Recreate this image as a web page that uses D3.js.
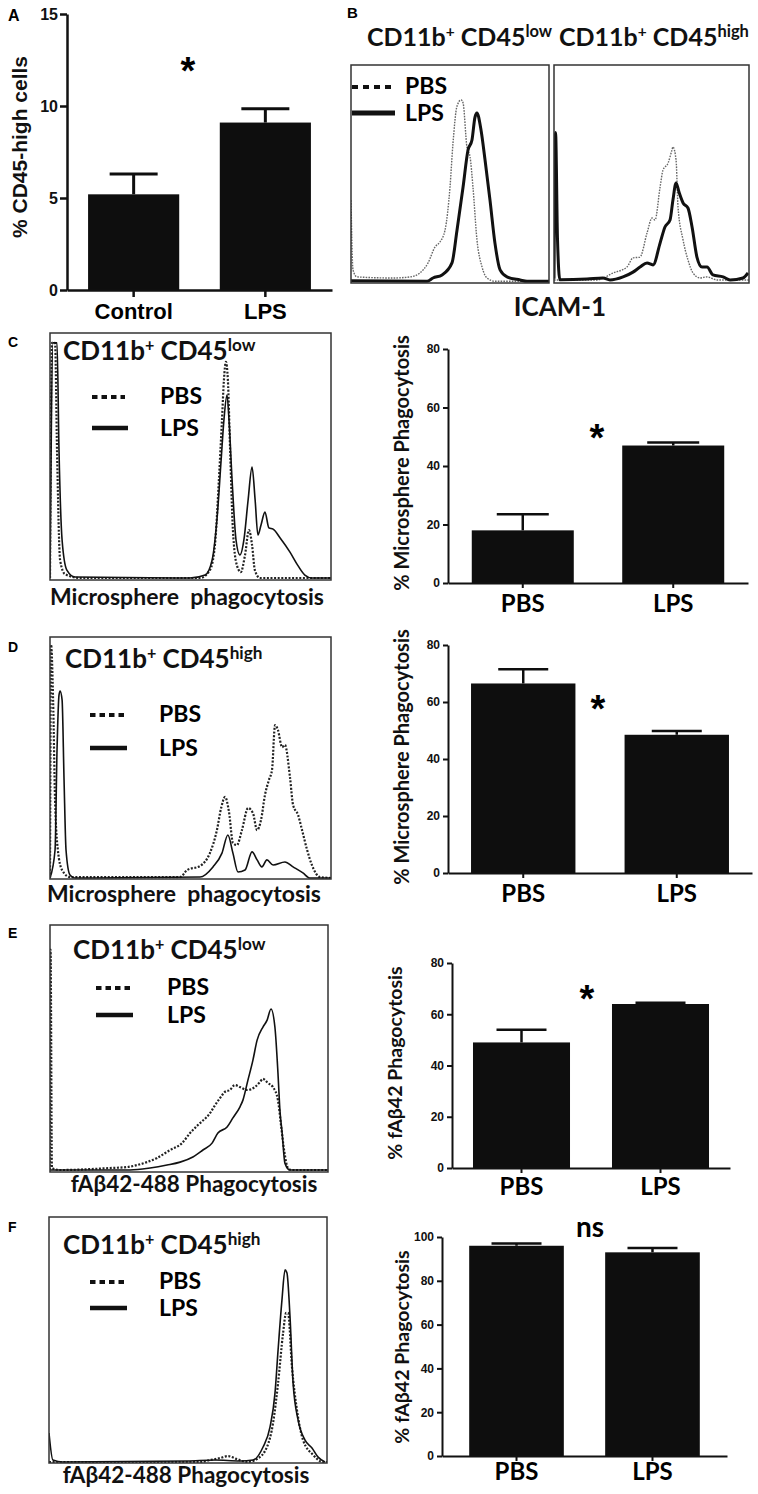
<!DOCTYPE html>
<html>
<head>
<meta charset="utf-8">
<script src="https://cdn.jsdelivr.net/npm/d3@7"></script>
<style>
  body { margin: 0; background: #fff; }
  svg { display: block; }
</style>
</head>
<body>
<script>
// ---- bar chart data ----
const groupsA = ["Control", "LPS"];
const meanA = [5.2, 9.1];
const errA = [6.3, 9.85];
const ticksA = [0, 5, 10, 15];

const groups = ["PBS", "LPS"];
const meanC = [18, 47],   errC = [23.5, 48];
const meanD = [66.5, 48.5], errD = [71.5, 49.8];
const meanE = [49, 64],   errE = [54, 64.5];
const meanF = [96, 93],   errF = [97, 95];
const ticks80 = [0, 20, 40, 60, 80];
const ticks100 = [0, 20, 40, 60, 80, 100];

// ---- histogram data: [fluorescence, % of max events] ----
const icamLowPBS = [[0,38],[1,6],[3,2.8],[21,2.3],[30,2.8],[34.8,4.6],[38.9,9.2],[42.4,16.5],[44.9,18.8],[47.5,24.3],[50,44],[51.5,64],[53.5,81],[55.6,84],[56.6,82.6],[58.6,62],[60.1,58],[61.6,44],[63.6,20],[66.2,7.3],[68.7,2.3],[72.7,0.8],[100,0.8]];
const icamLowLPS = [[0,1],[38.4,0.8],[41.4,2.3],[46,3.7],[51,9.2],[53.5,24],[56.6,44],[59.1,61],[61.1,65.6],[62.6,76],[63.6,78],[65.7,70],[67.7,56.4],[70.2,38],[72.7,18.3],[75.3,6],[78.8,2.8],[85.4,1.4],[88.9,0.8],[100,0.8]];
const icamHighPBS = [[0,1.4],[22.1,1.4],[30.3,4.6],[37.4,7.3],[40.5,11.5],[44.1,11.9],[47.7,22.9],[50.3,29.8],[51.8,28.9],[54.4,44],[55.9,51.8],[58.5,55],[60.5,61],[61,62.4],[62.6,56.4],[63.6,34.9],[66.2,19.7],[68.7,10.6],[71.3,4.6],[74.9,2.3],[78.5,2.8],[83.6,1.4],[100,1.4]];
const icamHighLPS = [[0,2],[0.8,69],[1.8,20],[3,1.5],[16.9,1.8],[25.1,2.3],[28.7,1.4],[35.4,2.8],[40.5,5],[44.1,7.3],[47.7,9.2],[50.8,8.3],[54.4,18.3],[56.9,25.7],[59.5,28.9],[61,38.1],[62.6,45.9],[64.1,41.7],[66.2,36.7],[68.7,34.4],[70.8,25.7],[73.3,11.9],[75.9,7.3],[78.5,7.3],[81.5,3.7],[86.7,2.8],[90.3,1.4],[96.9,2.3],[99.5,4.6]];

const microLowPBS = [[0,0.8],[0.7,96],[1.8,96],[2.5,52.6],[3.6,8],[5.3,2.4],[10.7,0.8],[53.4,0.8],[56.9,4],[58.7,14.2],[60.1,40.5],[61.2,64.8],[61.9,81],[62.6,88.3],[63.3,81],[64.1,52.6],[65.1,20.2],[66.5,6],[67.9,3.2],[69.4,10.1],[70.8,20.2],[71.9,14.2],[72.9,4],[74.7,0.8],[100,0.8]];
const microLowLPS = [[0,0.8],[1.1,96],[2.5,96],[3.2,52.6],[4.3,16.2],[6,4],[8.9,1.2],[49.8,0.8],[55.2,2],[57.7,8.1],[59.4,24.3],[60.9,48.6],[61.9,64.8],[63,74.9],[63.7,64.8],[64.8,40.5],[66.2,16.2],[67.6,10.1],[69,16.2],[70.5,32.4],[71.9,45.7],[73,32.4],[74,18.2],[75.1,22.3],[76.5,27.5],[77.9,21.1],[79.4,20.6],[81.9,17],[85.4,11.3],[88.3,5.7],[90.7,2],[93.2,0.8],[100,0.8]];
const microHighPBS = [[0,0.4],[0.4,96.7],[1.1,74],[1.8,32.6],[2.8,12],[4.3,3.7],[7.1,0.8],[46.3,0.8],[48.8,3.7],[53.4,5.4],[56.9,10.7],[59.4,20.2],[60.9,29.3],[62.3,33.9],[63.7,27.7],[65.1,14.9],[66.5,14],[68.3,20.2],[70.5,29.3],[72.2,27.3],[73.7,20.2],[75.1,24.4],[76.5,34.7],[77.9,40.9],[79,45],[80.1,63.6],[81.1,61.6],[82.6,54.5],[83.6,55.4],[85.4,42.1],[86.5,30.6],[88.3,26.4],[89.7,20.2],[91.5,12],[93.2,5.8],[96.1,0.8],[100,0.4]];
const microHighLPS = [[0,0.4],[1.8,12],[2.5,53.3],[3.2,76],[3.6,77.7],[4.3,74],[5,40.9],[5.7,12],[7.1,1.7],[8.9,0.4],[53.4,0.8],[58,5],[61.2,10.7],[63.3,18.2],[65.1,10.7],[66.9,2.9],[69.4,3.7],[71.9,11.2],[73.7,7.9],[75.4,5],[77.2,7.9],[79.4,5.8],[83.6,7],[86.5,5],[90,2.5],[92.5,0.4],[100,0.4]];

const abLowPBS = [[0,0.8],[0.2,90],[0.7,1.6],[3.6,0.8],[21.6,1.6],[27.7,2],[31.3,2.8],[34.9,4],[38.5,5.7],[43.2,8.9],[47.5,11.7],[50.4,15.8],[53.2,19],[57.6,23.9],[59.4,27.1],[61.2,30],[62.9,32.4],[64.7,33.2],[66.5,35.2],[68.3,34.4],[70.9,33.2],[73.7,34.4],[75.5,36.4],[76.6,37.7],[78.4,36],[80.2,34.4],[82,29.1],[83.1,19],[84.2,8.9],[85.6,1.6],[87,0.8],[100,0.8]];
const abLowLPS = [[0,0.8],[28.8,0.8],[36,1.6],[42.1,2.8],[46.8,4],[51.4,6.1],[55,8.9],[58.3,11.7],[60.4,15.8],[63.7,18.2],[65.8,21.9],[68.3,26.3],[69.4,29.1],[71.2,37.2],[73,45.3],[74.5,53.4],[76.6,58.7],[78.1,61.5],[79.5,66],[80.9,58.7],[82,40.1],[82.7,25.1],[83.5,15.8],[84.5,3.6],[86.3,0.8],[100,0.8]];
const abHighPBS = [[0,0.4],[54.3,0.4],[57.9,1.2],[61.5,2],[64.4,2.8],[67.6,1.6],[71.2,0.4],[74.8,1.6],[78.4,6.5],[80.6,16.3],[82.4,32.5],[84.2,52.8],[85.3,61],[86,61],[87.4,39],[89.2,21.5],[91.4,9.3],[95,3.3],[98.6,0.4],[100,0.4]];
const abHighLPS = [[0,12.2],[1.4,1.2],[5,0.4],[49.6,0.8],[59.7,1.2],[68.7,0.8],[73.4,1.2],[77,6.5],[79.5,14.6],[81.3,28.5],[82.4,45.9],[83.8,66.3],[84.9,78.5],[85.6,77.2],[86.7,59.3],[87.8,32.5],[89.6,17.5],[92.1,9.3],[94.6,6.1],[96.8,2.4],[99.3,0.4]];

const ARIAL = '"Liberation Sans", Arial, sans-serif';
const CALI = 'Lato, "Open Sans", sans-serif';

const svg = d3.select("body").append("svg")
  .attr("width", 758).attr("height", 1494);

// ---------- bar charts ----------
function barPanel(o) {
  const g = svg.append("g");
  const y = d3.scaleLinear().domain([0, o.max]).range([o.bottom, o.top]);
  const x = d3.scaleBand().domain(o.cats).range([o.left, o.right])
    .paddingInner(o.pi).paddingOuter(o.po);

  g.selectAll("rect.bar").data(o.means).enter().append("rect")
    .attr("x", (d, i) => x(o.cats[i]))
    .attr("width", x.bandwidth())
    .attr("y", d => y(d))
    .attr("height", d => o.bottom - y(d))
    .attr("fill", "#0e0e0e");

  const err = g.selectAll("g.err").data(o.errs).enter().append("g")
    .attr("stroke", "#0e0e0e").attr("stroke-width", o.errW);
  err.append("line")
    .attr("x1", (d, i) => x(o.cats[i]) + x.bandwidth() / 2)
    .attr("x2", (d, i) => x(o.cats[i]) + x.bandwidth() / 2)
    .attr("y1", (d, i) => y(o.means[i]))
    .attr("y2", d => y(d));
  err.append("line")
    .attr("x1", (d, i) => x(o.cats[i]) + x.bandwidth() / 2 - o.cap)
    .attr("x2", (d, i) => x(o.cats[i]) + x.bandwidth() / 2 + o.cap)
    .attr("y1", d => y(d)).attr("y2", d => y(d));

  const ya = g.append("g").attr("transform", `translate(${o.left},0)`)
    .call(d3.axisLeft(y).tickValues(o.ticks).tickSize(o.tick).tickSizeOuter(0).tickPadding(o.tpad));
  ya.selectAll("text").attr("font-family", ARIAL).attr("font-weight", "bold")
    .attr("font-size", o.tfs).attr("fill", "#111");

  const xa = g.append("g").attr("transform", `translate(0,${o.bottom})`)
    .call(d3.axisBottom(x).tickSize(o.tick).tickSizeOuter(0).tickPadding(o.cpad));
  xa.selectAll("text").attr("font-family", o.cfont).attr("font-weight", "bold")
    .attr("font-size", o.cfs).attr("fill", "#000");

  [ya, xa].forEach(a => {
    a.select(".domain").attr("stroke", "#111").attr("stroke-width", o.axW);
    a.selectAll(".tick line").attr("stroke", "#111").attr("stroke-width", o.axW);
  });

  g.append("text")
    .attr("transform", `translate(${o.labX},${o.labY}) rotate(-90)`)
    .attr("text-anchor", "middle")
    .attr("font-family", o.labFont).attr("font-weight", "bold")
    .attr("font-size", o.labFs).attr("fill", "#111")
    .text(o.label);

  if (o.star) {
    g.append("text").attr("x", o.star[0]).attr("y", o.star[1] + 22)
      .attr("text-anchor", "middle").attr("font-family", ARIAL)
      .attr("font-weight", "bold").attr("font-size", 38).text("*");
  }
}

barPanel({ cats: groupsA, means: meanA, errs: errA, ticks: ticksA, max: 15,
  left: 67, right: 332, top: 14, bottom: 290, pi: 0.308, po: 0.16,
  tick: 7, tpad: 2, tfs: 16, axW: 2.5, errW: 3, cap: 24,
  cfont: ARIAL, cfs: 22, cpad: 6,
  label: "% CD45-high cells", labX: 27, labY: 147, labFont: ARIAL, labFs: 21,
  star: [188, 62] });

barPanel({ cats: groups, means: meanC, errs: errC, ticks: ticks80, max: 80,
  left: 448, right: 748, top: 349, bottom: 583, pi: 0.322, po: 0.158,
  tick: 5, tpad: 3, tfs: 12, axW: 2, errW: 2.5, cap: 26,
  cfont: CALI, cfs: 24, cpad: 7,
  label: "% Microsphere Phagocytosis", labX: 409, labY: 463, labFont: CALI, labFs: 20,
  star: [597, 429] });

barPanel({ cats: groups, means: meanD, errs: errD, ticks: ticks80, max: 80,
  left: 448, right: 752, top: 645, bottom: 873, pi: 0.32, po: 0.15,
  tick: 5, tpad: 3, tfs: 12, axW: 2, errW: 2.5, cap: 25,
  cfont: CALI, cfs: 24, cpad: 7,
  label: "% Microsphere Phagocytosis", labX: 409, labY: 757, labFont: CALI, labFs: 20,
  star: [598, 700] });

barPanel({ cats: groups, means: meanE, errs: errE, ticks: ticks80, max: 80,
  left: 452, right: 730, top: 963, bottom: 1168, pi: 0.302, po: 0.151,
  tick: 5, tpad: 3, tfs: 12, axW: 2, errW: 2.5, cap: 25,
  cfont: CALI, cfs: 24, cpad: 5,
  label: "% fA\u03b242 Phagocytosis", labX: 402, labY: 1063, labFont: CALI, labFs: 19.5,
  star: [587, 990] });

barPanel({ cats: groups, means: meanF, errs: errF, ticks: ticks100, max: 100,
  left: 442, right: 727, top: 1237, bottom: 1456, pi: 0.304, po: 0.2,
  tick: 5, tpad: 3, tfs: 12, axW: 2, errW: 2.5, cap: 25,
  cfont: CALI, cfs: 24, cpad: 2,
  label: "% fA\u03b242 Phagocytosis", labX: 409, labY: 1347, labFont: CALI, labFs: 19.5,
  star: null });

svg.append("text").attr("x", 590).attr("y", 1237).attr("text-anchor", "middle")
  .attr("font-family", CALI).attr("font-weight", "bold").attr("font-size", 28).text("ns");

// ---------- histograms ----------
function histPanel(o) {
  const g = svg.append("g");
  const x = d3.scaleLinear().domain([0, 100]).range([o.left, o.right]);
  const y = d3.scaleLinear().domain([0, 100]).range([o.bottom, o.top]);
  const line = d3.line().x(d => x(d[0])).y(d => y(d[1])).curve(d3.curveMonotoneX);
  const id = "clip" + o.id;
  g.append("clipPath").attr("id", id).append("rect")
    .attr("x", o.left).attr("y", o.top)
    .attr("width", o.right - o.left).attr("height", o.bottom - o.top);
  const c = g.append("g").attr("clip-path", `url(#${id})`).attr("fill", "none");
  c.append("path").datum(o.pbs).attr("d", line)
    .attr("stroke", o.dotColor).attr("stroke-width", o.dotW)
    .attr("stroke-dasharray", o.dash);
  c.append("path").datum(o.lps).attr("d", line)
    .attr("stroke", "#111").attr("stroke-width", o.solidW);
  g.append("rect").attr("x", o.left).attr("y", o.top)
    .attr("width", o.right - o.left).attr("height", o.bottom - o.top)
    .attr("fill", "none").attr("stroke", "#333").attr("stroke-width", 1.5);
}

function cdTitle(x, y, level, fs) {
  const t = svg.append("text").attr("x", x).attr("y", y)
    .attr("font-family", CALI).attr("font-weight", "bold")
    .attr("font-size", fs).attr("fill", "#111");
  t.append("tspan").text("CD11b");
  t.append("tspan").text("+").attr("font-size", fs * 0.62).attr("dy", -fs * 0.36);
  t.append("tspan").text(" CD45").attr("font-size", fs).attr("dy", fs * 0.36);
  t.append("tspan").text(level).attr("font-size", fs * 0.66).attr("dy", -fs * 0.36);
}

function legend(x0, x1, tx, yDot, yLine, fs, dotW, lineW, dash) {
  svg.append("line").attr("x1", x0).attr("x2", x1).attr("y1", yDot).attr("y2", yDot)
    .attr("stroke", "#111").attr("stroke-width", dotW).attr("stroke-dasharray", dash);
  svg.append("line").attr("x1", x0).attr("x2", x1 + 3).attr("y1", yLine).attr("y2", yLine)
    .attr("stroke", "#111").attr("stroke-width", lineW);
  svg.append("text").attr("x", tx).attr("y", yDot + 7).attr("font-family", CALI)
    .attr("font-weight", "bold").attr("font-size", fs).text("PBS");
  svg.append("text").attr("x", tx).attr("y", yLine + 8).attr("font-family", CALI)
    .attr("font-weight", "bold").attr("font-size", fs).text("LPS");
}

function axisText(x, y, txt, fs) {
  svg.append("text").attr("x", x).attr("y", y).attr("text-anchor", "middle")
    .attr("font-family", CALI).attr("font-weight", "bold").attr("font-size", fs)
    .attr("fill", "#111").style("white-space", "pre").text(txt);
}

// B
histPanel({ id: "b1", left: 351, right: 549, top: 65, bottom: 283,
  pbs: icamLowPBS, lps: icamLowLPS, dotColor: "#666", dotW: 1.4, dash: "1.6,1.2", solidW: 3 });
histPanel({ id: "b2", left: 554, right: 749, top: 65, bottom: 283,
  pbs: icamHighPBS, lps: icamHighLPS, dotColor: "#666", dotW: 1.4, dash: "1.6,1.2", solidW: 3 });
cdTitle(367, 46, "low", 25);
cdTitle(559, 46, "high", 25);
legend(352, 392, 405, 87, 113, 23, 4, 5, "6,5");
axisText(560, 316, "ICAM-1", 26);

// C
histPanel({ id: "c", left: 50, right: 331, top: 333, bottom: 580,
  pbs: microLowPBS, lps: microLowLPS, dotColor: "#222", dotW: 2.2, dash: "2,1.6", solidW: 1.6 });
cdTitle(63, 360, "low", 26);
legend(92, 125, 160, 397, 428, 23, 4, 4.5, "5.5,4");
axisText(187, 605, "Microsphere  phagocytosis", 23);

// D
histPanel({ id: "d", left: 50, right: 331, top: 637, bottom: 879,
  pbs: microHighPBS, lps: microHighLPS, dotColor: "#222", dotW: 2.2, dash: "2,1.6", solidW: 1.6 });
cdTitle(65, 668, "high", 26);
legend(90, 124, 159, 715, 748, 23, 4, 4.5, "5.5,4");
axisText(184, 902, "Microsphere  phagocytosis", 23);

// E
histPanel({ id: "e", left: 50, right: 328, top: 925, bottom: 1172,
  pbs: abLowPBS, lps: abLowLPS, dotColor: "#222", dotW: 2.2, dash: "2,1.6", solidW: 1.6 });
cdTitle(73, 959, "low", 26);
legend(96, 130, 167, 988, 1015, 23, 4, 4.5, "5.5,4");
axisText(194, 1192, "fA\u03b242-488 Phagocytosis", 22.5);

// F
histPanel({ id: "f", left: 49, right: 327, top: 1217, bottom: 1463,
  pbs: abHighPBS, lps: abHighLPS, dotColor: "#222", dotW: 2.2, dash: "2,1.6", solidW: 1.6 });
cdTitle(63, 1254, "high", 26);
legend(90, 124, 159, 1282, 1308, 23, 4, 4.5, "5.5,4");
axisText(186, 1483, "fA\u03b242-488 Phagocytosis", 22.5);

// panel letters
[["A", 8, 21, 16], ["B", 347, 18, 15], ["C", 8, 347, 14],
 ["D", 8, 652, 14], ["E", 8, 938, 14], ["F", 8, 1232, 14]].forEach(l => {
  svg.append("text").attr("x", l[1]).attr("y", l[2]).attr("font-family", ARIAL)
    .attr("font-weight", "bold").attr("font-size", l[3]).text(l[0]);
});
</script>
</body>
</html>
